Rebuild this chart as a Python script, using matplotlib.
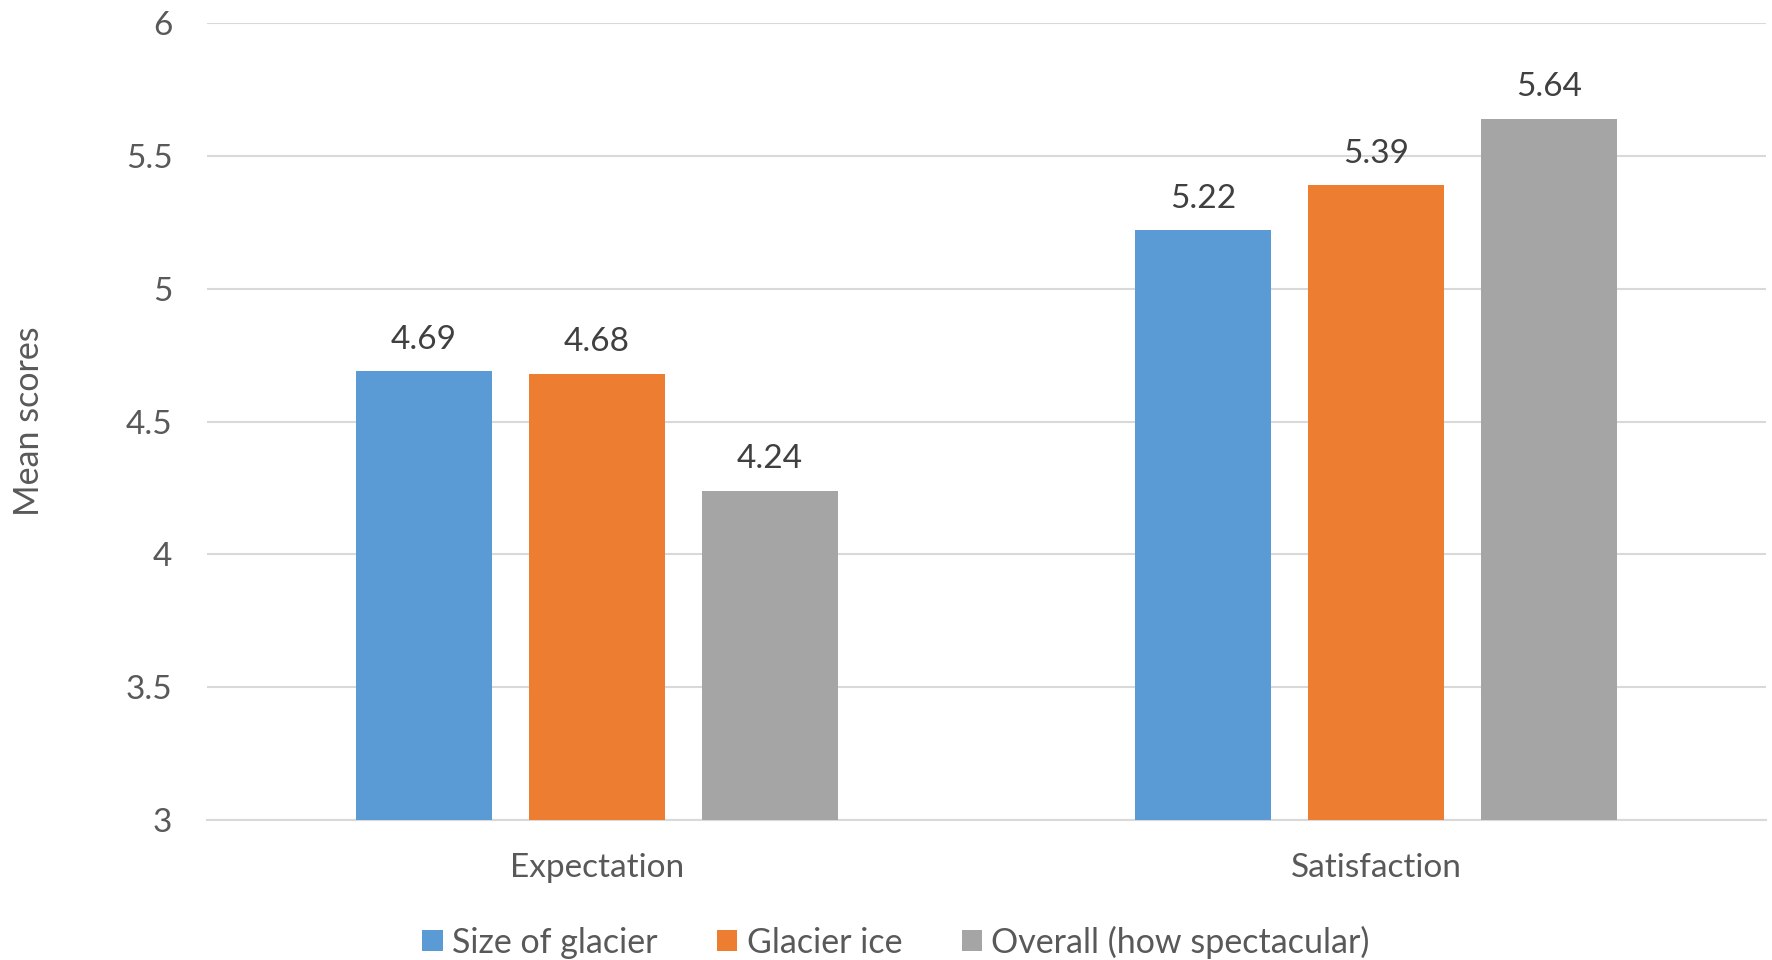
import matplotlib
matplotlib.use('Agg')
import matplotlib.pyplot as plt
import numpy as np

categories = ['Expectation', 'Satisfaction']
series = ['Size of glacier', 'Glacier ice', 'Overall (how spectacular)']
size_of_glacier = [4.69, 5.22]
glacier_ice = [4.68, 5.39]
overall = [4.24, 5.64]
colors = ['#5B9BD5', '#ED7D31', '#A5A5A5']

plt.rcParams['font.family'] = ['Lato', 'DejaVu Sans']

fig = plt.figure(figsize=(17.72, 9.6), dpi=100)
ax = fig.add_axes([207/1772, 1-820/960, (1766-207)/1772, (820-23)/960])

x = np.arange(len(categories))
width = 0.1745
step = 0.222
for i, (vals, name) in enumerate(zip([size_of_glacier, glacier_ice, overall], series)):
    pos = x + (i - 1) * step
    ax.bar(pos, [v - 3 for v in vals], width, bottom=3, color=colors[i], label=name, zorder=3)
    for p, v in zip(pos, vals):
        ax.annotate(f'{v:.2f}', (p, v), xytext=(0, 22.5), textcoords='offset points',
                    ha='center', va='center', fontsize=24, color='#404040')

ax.set_xlim(-0.5, 1.5)
ax.set_ylim(3, 6)
ax.set_yticks([3, 3.5, 4, 4.5, 5, 5.5, 6])
ax.set_yticklabels(['3', '3.5', '4', '4.5', '5', '5.5', '6'])
ax.set_xticks(x)
ax.set_xticklabels(categories)
ax.yaxis.grid(True, color='#D9D9D9', linewidth=1.5, zorder=0)
ax.tick_params(axis='y', length=0, pad=25, labelsize=24, labelcolor='#595959')
ax.tick_params(axis='x', length=0, pad=24, labelsize=24, labelcolor='#595959')
for s in ['top', 'right', 'left']:
    ax.spines[s].set_visible(False)
ax.spines['bottom'].set_color('#D9D9D9')
ax.spines['bottom'].set_linewidth(1.5)
ax.set_ylabel('Mean scores', fontsize=24.5, color='#595959', labelpad=58)

fig.legend(loc='center', bbox_to_anchor=(896/1772, 1-942/960), ncol=3, frameon=False,
           fontsize=24.5, handlelength=0.6, handleheight=0.6, handletextpad=0.27,
           columnspacing=1.75, labelcolor='#595959')

fig.savefig('out.png', dpi=100)
